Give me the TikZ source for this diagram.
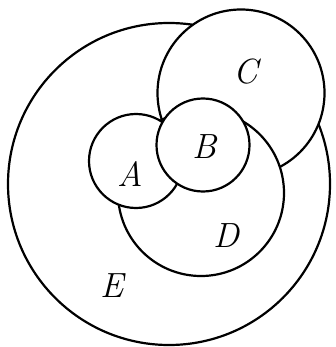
\documentclass[tikz,border=0pt]{standalone}
\usepackage{tikz}

\begin{document}
\begin{tikzpicture}[
    x=1pt, y=-1pt,
    set/.style={circle, draw=black, fill=white, line width=2.2pt, inner sep=0pt},
    lbl/.style={font=\fontsize{35}{35}\selectfont\itshape}
  ]
  \useasboundingbox (0,0) rectangle (335,347);
  % circles, each one drawn over the previous ones
  \node[set, minimum size=322pt] (E) at (169,184) {};
  \node[set, minimum size=167pt] (C) at (241,93) {};
  \node[set, minimum size=166pt] (D) at (201,193) {};
  \node[set, minimum size=94pt] (A) at (136,161) {};
  \node[set, minimum size=93pt] (B) at (203,145) {};

  \node[lbl] (la) at (130,174) {A};
  \node[lbl] (lb) at (205,147) {B};
  \node[lbl] (lc) at (246,72) {C};
  \node[lbl] (ld) at (226,236) {D};
  \node[lbl] (le) at (112,286) {E};
\end{tikzpicture}
\end{document}
